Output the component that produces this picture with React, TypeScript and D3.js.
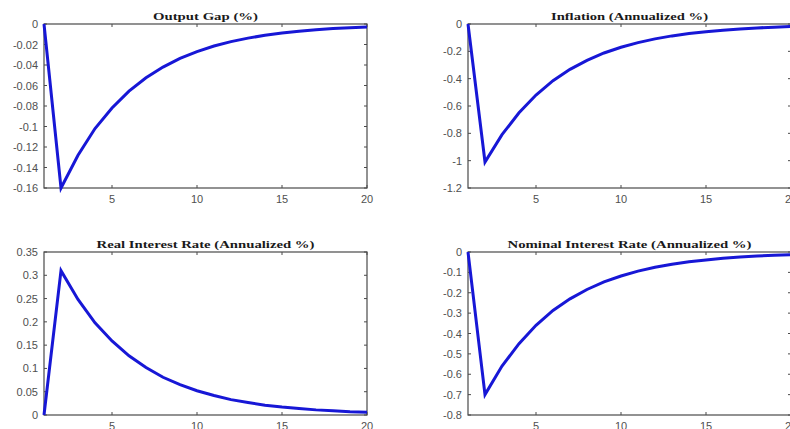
import React from 'react';
import * as d3 from 'd3';

// periods 1..20
const periods = [1, 2, 3, 4, 5, 6, 7, 8, 9, 10, 11, 12, 13, 14, 15, 16, 17, 18, 19, 20];

const outputGap = [0, -0.16, -0.128, -0.102, -0.082, -0.0655, -0.0525, -0.042, -0.0336, -0.0269,
	-0.0215, -0.0172, -0.0138, -0.011, -0.0088, -0.0071, -0.0056, -0.0045, -0.0036, -0.0029];
const inflation = [0, -1.01, -0.81, -0.65, -0.52, -0.415, -0.332, -0.266, -0.212, -0.17,
	-0.136, -0.109, -0.087, -0.07, -0.056, -0.045, -0.036, -0.029, -0.023, -0.018];
const realRate = [0, 0.31, 0.248, 0.198, 0.159, 0.127, 0.102, 0.081, 0.065, 0.052,
	0.042, 0.033, 0.027, 0.021, 0.017, 0.014, 0.011, 0.009, 0.007, 0.006];
const nominalRate = [0, -0.7, -0.56, -0.45, -0.36, -0.287, -0.23, -0.184, -0.147, -0.118,
	-0.094, -0.075, -0.06, -0.048, -0.039, -0.031, -0.025, -0.02, -0.016, -0.013];

const titles = [
	'Output Gap (%)',
	'Inflation (Annualized %)',
	'Real Interest Rate (Annualized %)',
	'Nominal Interest Rate (Annualized %)',
];
const xTicks = [5, 10, 15, 20];
const yTicksGap = [0, -0.02, -0.04, -0.06, -0.08, -0.1, -0.12, -0.14, -0.16];
const yTicksInfl = [0, -0.2, -0.4, -0.6, -0.8, -1, -1.2];
const yTicksReal = [0, 0.05, 0.1, 0.15, 0.2, 0.25, 0.3, 0.35];
const yTicksNom = [0, -0.1, -0.2, -0.3, -0.4, -0.5, -0.6, -0.7, -0.8];

const LINE = '#1717d6';
const AXIS = '#4a4a4a';
const LABEL = '#505050';

type PanelProps = {
	values: number[];
	title: string;
	titleWidth: number;
	yTicks: number[];
	box: { left: number; right: number; top: number; bottom: number };
};

const Panel = ({ values, title, titleWidth, yTicks, box }: PanelProps) => {
	const x = d3.scaleLinear().domain([1, 20]).range([box.left, box.right]);
	const y = d3
		.scaleLinear()
		.domain([d3.min(yTicks) as number, d3.max(yTicks) as number])
		.range([box.bottom, box.top]);
	const path = d3
		.line<number>()
		.x((d, i) => x(periods[i]))
		.y((d) => y(d))(values);
	const tl = 3;

	return (
		<g>
			<rect
				x={box.left}
				y={box.top}
				width={box.right - box.left}
				height={box.bottom - box.top}
				fill="white"
				stroke={AXIS}
				strokeWidth={1.2}
			/>
			{xTicks.map((t) => (
				<g key={'x' + t}>
					<line x1={x(t)} x2={x(t)} y1={box.bottom} y2={box.bottom - tl} stroke={AXIS} />
					<line x1={x(t)} x2={x(t)} y1={box.top} y2={box.top + tl} stroke={AXIS} />
					<text
						x={x(t)}
						y={box.bottom + 15}
						textAnchor="middle"
						fontSize={11}
						fontFamily="'Liberation Sans', Arial, sans-serif"
						fill={LABEL}
					>
						{t}
					</text>
				</g>
			))}
			{yTicks.map((t) => (
				<g key={'y' + t}>
					<line x1={box.left} x2={box.left + tl} y1={y(t)} y2={y(t)} stroke={AXIS} />
					<line x1={box.right} x2={box.right - tl} y1={y(t)} y2={y(t)} stroke={AXIS} />
					<text
						x={box.left - 6}
						y={y(t) + 4}
						textAnchor="end"
						fontSize={11}
						fontFamily="'Liberation Sans', Arial, sans-serif"
						fill={LABEL}
					>
						{String(t)}
					</text>
				</g>
			))}
			<path
				d={path || ''}
				fill="none"
				stroke={LINE}
				strokeWidth={3}
				strokeLinejoin="miter"
			/>
			<text
				x={(box.left + box.right) / 2}
				y={box.top - 4}
				textAnchor="middle"
				fontSize={11}
				fontWeight="bold"
				fontFamily="'Liberation Serif', 'Times New Roman', serif"
				fill="#1a1a1a"
				textLength={titleWidth}
				lengthAdjust="spacingAndGlyphs"
			>
				{title}
			</text>
		</g>
	);
};

const App = () => {
	return (
		<svg
			width={790}
			height={429}
			style={{ position: 'absolute', left: 0, top: 0, background: 'white' }}
		>
			<Panel
				values={outputGap}
				title={titles[0]}
				titleWidth={105}
				yTicks={yTicksGap}
				box={{ left: 44, right: 367, top: 24, bottom: 188 }}
			/>
			<Panel
				values={inflation}
				title={titles[1]}
				titleWidth={157}
				yTicks={yTicksInfl}
				box={{ left: 468, right: 791, top: 24, bottom: 188 }}
			/>
			<Panel
				values={realRate}
				title={titles[2]}
				titleWidth={218}
				yTicks={yTicksReal}
				box={{ left: 44, right: 367, top: 252, bottom: 415 }}
			/>
			<Panel
				values={nominalRate}
				title={titles[3]}
				titleWidth={244}
				yTicks={yTicksNom}
				box={{ left: 468, right: 791, top: 252, bottom: 415 }}
			/>
		</svg>
	);
};

export default App;
